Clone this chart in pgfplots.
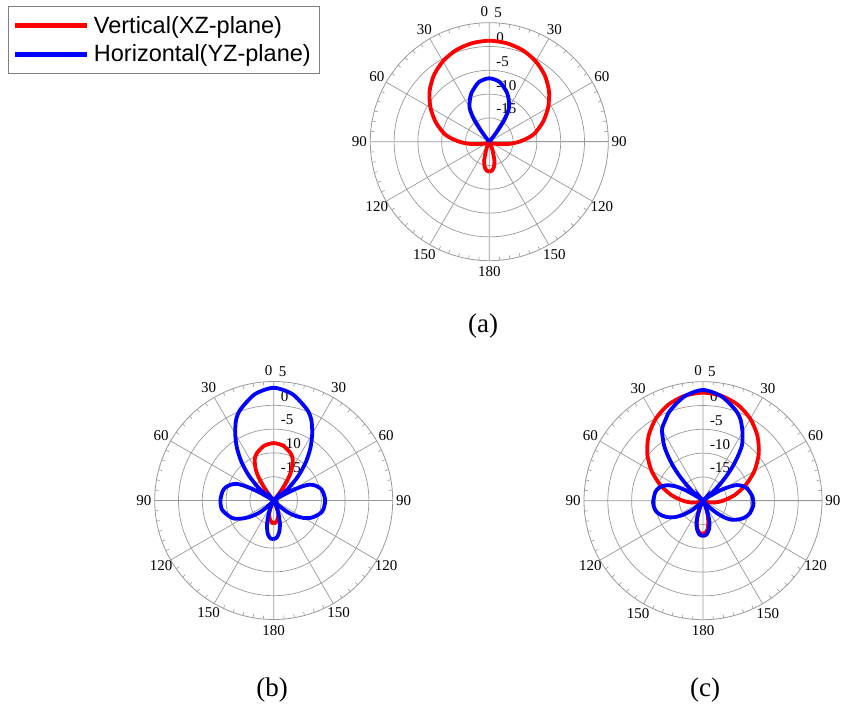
\documentclass[border=0pt]{standalone}
\usepackage{pgfplots}
\pgfplotsset{compat=1.18}
\usepgfplotslibrary{polar}
\usepackage{pgfplotstable}
\usepackage{fontspec}
\setmainfont{Liberation Serif}
\newfontfamily\arial{Liberation Sans}

% angle t: degrees clockwise from the top (negative = left side); db: gain in dB
\pgfplotstableread{
t db
-180 -13.70
-175 -13.90
-170 -14.54
-165 -15.80
-160 -17.90
-155 -19.16
-150 -19.79
-140 -20
-130 -19.90
-120 -19.47
-110 -18.74
-105 -18.11
-100 -17.06
-95 -15.38
-90 -13.70
-85 -12.02
-80 -10.40
-70 -8.03
-60 -5.74
-50 -3.61
-40 -1.85
-30 -0.50
-20 0.46
-10 1.01
0 1.22
10 1.01
20 0.46
30 -0.50
40 -1.85
50 -3.61
60 -5.74
70 -8.03
80 -10.40
85 -12.02
90 -13.70
95 -15.38
100 -17.06
105 -18.11
110 -18.74
120 -19.47
130 -19.90
140 -20
150 -19.79
155 -19.16
160 -17.90
165 -15.80
170 -14.54
175 -13.90
180 -13.70
}\aRed

\pgfplotstableread{
t db
-180 -20
-90 -20
-41 -20
-39 -18.95
-37 -17.06
-35 -14.75
-33 -13.28
-30 -11.70
-25 -10.34
-20 -9.08
-10 -7.29
0 -6.68
10 -7.29
20 -9.08
25 -10.34
30 -11.70
33 -13.28
35 -14.75
37 -17.06
39 -18.95
41 -20
90 -20
180 -20
}\aBlue

\pgfplotstableread{
t db
-180 -15.17
-175 -15.38
-170 -15.80
-162 -16.85
-155 -18.53
-150 -20
-90 -20
-42 -20
-40 -19.37
-38 -17.90
-36 -16.22
-33 -14.12
-30 -12.44
-25 -10.55
-20 -9.50
-10 -8.34
0 -7.94
10 -8.34
20 -9.50
25 -10.55
30 -12.44
33 -14.12
36 -16.22
38 -17.90
40 -19.37
42 -20
90 -20
150 -20
155 -18.53
162 -16.85
170 -15.80
175 -15.38
180 -15.17
}\bRed

\pgfplotstableread{
t db
-180 -11.87
-175 -12.02
-170 -12.86
-165 -14.54
-160 -16.64
-155 -18.74
-150 -20
-140 -20
-137 -19.37
-134 -17.90
-130 -16.01
-125 -14.12
-120 -12.44
-115 -10.97
-110 -10.13
-100 -8.97
-90 -8.80
-80 -9.08
-75 -9.50
-70 -10.34
-66 -11.39
-64 -12.65
-62 -14.54
-60 -17.06
-58 -20
-56 -19.58
-53 -17.90
-50 -15.80
-45 -12.65
-40 -9.50
-35 -6.55
-30 -3.82
-25 -1.30
-20 0.38
-10 2.69
0 3.68
10 2.69
20 0.38
25 -1.30
30 -3.82
35 -6.55
40 -9.50
45 -12.65
50 -15.80
53 -17.90
56 -19.58
58 -20
60 -17.48
62 -14.96
64 -13.07
66 -11.81
70 -10.76
75 -9.92
80 -9.50
90 -9.18
100 -9.39
105 -9.81
110 -10.55
115 -11.39
120 -12.65
125 -14.33
130 -16.22
134 -18.11
137 -19.37
140 -20
150 -20
155 -18.95
160 -17.06
165 -14.96
170 -13.28
175 -12.23
180 -11.87
}\bBlue

\pgfplotstableread{
t db
-180 -13.07
-175 -13.17
-170 -13.70
-165 -14.96
-160 -16.64
-155 -18.53
-150 -20
-120 -20
-110 -19.16
-100 -17.69
-90 -15.80
-80 -13.28
-70 -10.50
-60 -7.54
-50 -4.71
-40 -2.21
-30 -0.13
-20 1.43
-10 2.37
0 2.69
10 2.37
20 1.43
30 -0.13
40 -2.21
50 -4.71
60 -7.54
70 -10.50
80 -13.28
90 -15.80
100 -17.69
110 -19.16
120 -20
150 -20
155 -19.16
160 -17.48
165 -15.80
170 -14.12
175 -13.28
180 -13.07
}\cRed

\pgfplotstableread{
t db
-180 -12.58
-174 -12.86
-168 -13.91
-163 -15.38
-160 -16.85
-155 -18.74
-150 -20
-140 -20
-137 -19.58
-134 -18.32
-130 -16.64
-125 -14.75
-120 -13.07
-115 -11.81
-110 -10.86
-105 -10.13
-100 -9.71
-92 -9.50
-80 -9.81
-75 -10.23
-70 -10.97
-66 -12.02
-62 -13.70
-59 -15.80
-56 -18.32
-53 -20
-50 -18.32
-47 -16.01
-44 -13.28
-41 -10.55
-38 -8.03
-35 -5.71
-30 -2.77
-25 -1.30
-20 0.17
-10 2.27
0 3.26
10 2.27
20 0.17
25 -1.30
30 -3.40
35 -5.71
38 -8.03
41 -10.55
44 -13.28
47 -16.01
50 -18.32
53 -20
56 -18.32
59 -15.80
62 -13.91
65 -12.23
70 -11.07
75 -10.34
85 -9.60
95 -9.39
105 -9.81
112 -10.55
118 -11.60
124 -12.86
128 -14.33
132 -16.22
136 -18.11
139 -19.58
142 -20
150 -20
155 -18.74
160 -16.85
163 -15.38
168 -13.91
174 -12.86
180 -12.58
}\cBlue

\pgfplotsset{
  rad/.style={
    scale only axis, width=238bp, height=238bp,
    xmin=0, xmax=360, ymin=0, ymax=25,
    xtick={0,30,...,330}, ytick={5,10,15,20},
    xticklabels={}, yticklabels={},
    minor x tick num=5,
    grid=major,
    major grid style={gray!80, line width=0.7bp},
    axis line style={gray!80, line width=0.8bp},
    major tick length=0pt, minor tick length=-3.5bp,
    minor tick style={gray!80, line width=0.6bp},
    tick align=inside,
    clip=false,
    anchor=center,
  },
  curve/.style={line width=3.8bp, smooth, tension=0.45, no marks},
}
\tikzset{pt/.style={font=\fontsize{15bp}{18bp}\selectfont, inner sep=0pt}}

\newcommand{\anglabels}{%
  \node[pt] at (axis cs:90,27.3) [xshift=-5bp] {0};
  \node[pt] at (axis cs:60,27.3) {30};
  \node[pt] at (axis cs:30,27.3) {60};
  \node[pt] at (axis cs:0,27.3) {90};
  \node[pt] at (axis cs:-30,27.3) {120};
  \node[pt] at (axis cs:-60,27.3) {150};
  \node[pt] at (axis cs:-90,27.3) {180};
  \node[pt] at (axis cs:120,27.3) {30};
  \node[pt] at (axis cs:150,27.3) {60};
  \node[pt] at (axis cs:180,27.3) {90};
  \node[pt] at (axis cs:210,27.3) {120};
  \node[pt] at (axis cs:240,27.3) {150};
  \node[pt,anchor=west] at (axis cs:90,25) [xshift=5bp,yshift=10bp] {5};
  \node[pt,anchor=west] at (axis cs:90,20) [xshift=7bp,yshift=9bp] {0};
  \node[pt,anchor=west] at (axis cs:90,15) [xshift=7bp,yshift=9bp] {-5};
  \node[pt,anchor=west] at (axis cs:90,10) [xshift=7bp,yshift=9bp] {-10};
  \node[pt,anchor=west] at (axis cs:90,5) [xshift=7bp,yshift=9bp] {-15};
}

\begin{document}
\begin{tikzpicture}
\useasboundingbox (0,0) rectangle (841bp,709bp);

% (a)
\begin{polaraxis}[rad, at={(489.3bp,567.3bp)},
  legend style={at={(-1.522,1.070)}, anchor=north west, draw=gray, line width=0.8bp,
    font=\arial\fontsize{23.5bp}{28bp}\selectfont, inner xsep=4.5bp, inner ysep=10bp,
    row sep=10bp, nodes={inner xsep=4bp, inner ysep=0bp}},
  legend cell align=left,
  legend image code/.code={\draw[#1, line width=5bp, sharp plot] (0bp,0bp) -- (72bp,0bp);}]
\anglabels
\addplot[curve, red] table[x expr=90-\thisrow{t}, y expr=\thisrow{db}+20] {\aRed};
\addlegendentry{Vertical(XZ-plane)}
\addplot[curve, blue] table[x expr=90-\thisrow{t}, y expr=\thisrow{db}+20] {\aBlue};
\addlegendentry{Horizontal(YZ-plane)}
\end{polaraxis}

% (b)
\begin{polaraxis}[rad, at={(273.7bp,208.5bp)}]
\anglabels
\addplot[curve, red] table[x expr=90-\thisrow{t}, y expr=\thisrow{db}+20] {\bRed};
\addplot[curve, blue] table[x expr=90-\thisrow{t}, y expr=\thisrow{db}+20] {\bBlue};
\end{polaraxis}

% (c)
\begin{polaraxis}[rad, at={(703bp,208.3bp)}]
\anglabels
\addplot[curve, red] table[x expr=90-\thisrow{t}, y expr=\thisrow{db}+20] {\cRed};
\addplot[curve, blue] table[x expr=90-\thisrow{t}, y expr=\thisrow{db}+20] {\cBlue};
\end{polaraxis}

\node[font=\fontsize{27bp}{30bp}\selectfont] at (483bp,383bp) {(a)};
\node[font=\fontsize{27bp}{30bp}\selectfont] at (272bp,19bp) {(b)};
\node[font=\fontsize{27bp}{30bp}\selectfont] at (705bp,19bp) {(c)};
\end{tikzpicture}
\end{document}
